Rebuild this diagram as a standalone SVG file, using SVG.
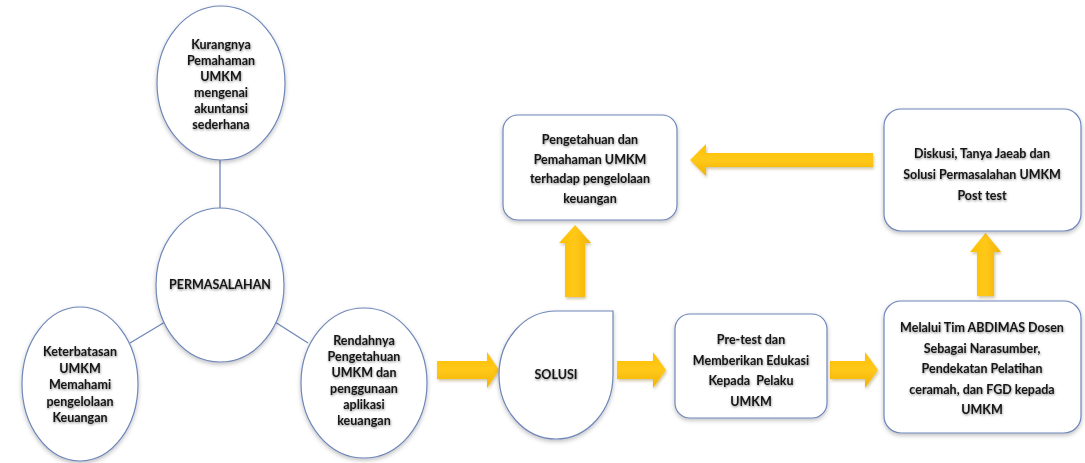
<svg xmlns="http://www.w3.org/2000/svg" width="1085" height="463" viewBox="0 0 1085 463">
<defs>
<filter id="sh" x="-20%" y="-20%" width="140%" height="150%">
<feDropShadow dx="0" dy="2" stdDeviation="2" flood-color="#000" flood-opacity="0.25"/>
</filter>
<filter id="ash" x="-30%" y="-30%" width="160%" height="160%">
<feDropShadow dx="1" dy="2" stdDeviation="1.5" flood-color="#7a5a00" flood-opacity="0.35"/>
</filter>
<filter id="tsh" x="-10%" y="-30%" width="120%" height="160%">
<feDropShadow dx="0.5" dy="1.2" stdDeviation="1" flood-color="#000" flood-opacity="0.45"/>
</filter>
<linearGradient id="yg" x1="0" y1="0" x2="0" y2="1">
<stop offset="0" stop-color="#FFC000"/>
<stop offset="0.5" stop-color="#FFC81A"/>
<stop offset="1" stop-color="#F2B200"/>
</linearGradient>
<linearGradient id="ygv" x1="0" y1="0" x2="1" y2="0">
<stop offset="0" stop-color="#FFC000"/>
<stop offset="0.5" stop-color="#FFC81A"/>
<stop offset="1" stop-color="#F2B200"/>
</linearGradient>
</defs>
<style>
.shape{fill:#fff;stroke:#6f86b8;stroke-width:1.2;filter:url(#sh)}
.line{stroke:#6f86b8;stroke-width:1.3;fill:none}
.t{font-family:Lato,"Liberation Sans",sans-serif;font-weight:bold;font-size:12.5px;fill:#151515;text-anchor:middle;filter:url(#tsh)}
.ah{fill:url(#yg);filter:url(#ash)}
.av{fill:url(#ygv);filter:url(#ash)}
</style>
<rect width="1085" height="463" fill="#fff"/>
<g id="connectors">
<line class="line" x1="220" y1="160" x2="220" y2="208"/>
<line class="line" x1="130" y1="343" x2="165" y2="322"/>
<line class="line" x1="275" y1="322" x2="308" y2="343"/>
<path class="ah" d="M437,361 H487 V352 L499,370 L487,388 V379 H437 Z"/>
<path class="ah" d="M617,361 H653 V352 L666,370 L653,388 V379 H617 Z"/>
<path class="ah" d="M830,361 H865 V352 L878,370 L865,388 V379 H830 Z"/>
<path class="av" d="M565,297 V243 H559 L575,225 L591,243 H585 V297 Z"/>
<path class="av" d="M977,296 V252 H970 L985.5,233 L1001,252 H994 V296 Z"/>
<path class="ah" d="M873,153 H706 V144 L690,160 L706,176 V167 H873 Z"/>
</g>
<g id="n-kurangnya">
<ellipse class="shape" cx="221" cy="83" rx="64" ry="77"/>
<text class="t"><tspan x="221" y="49">Kurangnya</tspan><tspan x="221" y="65">Pemahaman</tspan><tspan x="221" y="81">UMKM</tspan><tspan x="221" y="97">mengenai</tspan><tspan x="221" y="113">akuntansi</tspan><tspan x="221" y="129">sederhana</tspan></text>
</g>
<g id="n-permasalahan">
<ellipse class="shape" cx="220" cy="285" rx="64" ry="77"/>
<text class="t" x="220" y="289">PERMASALAHAN</text>
</g>
<g id="n-keterbatasan">
<ellipse class="shape" cx="80" cy="384" rx="58" ry="77"/>
<text class="t"><tspan x="80" y="356">Keterbatasan</tspan><tspan x="80" y="372.5">UMKM</tspan><tspan x="80" y="389">Memahami</tspan><tspan x="80" y="405.5">pengelolaan</tspan><tspan x="80" y="422">Keuangan</tspan></text>
</g>
<g id="n-rendahnya">
<ellipse class="shape" cx="364" cy="383" rx="63" ry="75"/>
<text class="t"><tspan x="364" y="345">Rendahnya</tspan><tspan x="364" y="361">Pengetahuan</tspan><tspan x="364" y="377">UMKM dan</tspan><tspan x="364" y="393">penggunaan</tspan><tspan x="364" y="409">aplikasi</tspan><tspan x="364" y="425">keuangan</tspan></text>
</g>
<g id="n-solusi">
<path class="shape" d="M613,311 V375 A57,64 0 1 1 556,311 Z"/>
<text class="t" x="556" y="379">SOLUSI</text>
</g>
<g id="n-pengetahuan">
<rect class="shape" x="503" y="115" width="174" height="105" rx="15"/>
<text class="t"><tspan x="590" y="144">Pengetahuan dan</tspan><tspan x="590" y="163.5">Pemahaman UMKM</tspan><tspan x="590" y="183">terhadap pengelolaan</tspan><tspan x="590" y="202.5">keuangan</tspan></text>
</g>
<g id="n-diskusi">
<rect class="shape" x="884" y="109" width="197" height="122" rx="17"/>
<text class="t"><tspan x="982" y="158">Diskusi, Tanya Jaeab dan</tspan><tspan x="982" y="179">Solusi Permasalahan UMKM</tspan><tspan x="982" y="200">Post test</tspan></text>
</g>
<g id="n-pretest">
<rect class="shape" x="675" y="314" width="152" height="104" rx="15"/>
<text class="t"><tspan x="751" y="344">Pre-test dan</tspan><tspan x="751" y="364.5">Memberikan Edukasi</tspan><tspan x="751" y="385" xml:space="preserve">Kepada  Pelaku</tspan><tspan x="751" y="405.5">UMKM</tspan></text>
</g>
<g id="n-melalui">
<rect class="shape" x="884" y="301" width="197" height="132" rx="17"/>
<text class="t"><tspan x="982" y="332">Melalui Tim ABDIMAS Dosen</tspan><tspan x="982" y="352.5">Sebagai Narasumber,</tspan><tspan x="982" y="373">Pendekatan Pelatihan</tspan><tspan x="982" y="393.5">ceramah, dan FGD kepada</tspan><tspan x="982" y="414">UMKM</tspan></text>
</g>
</svg>
